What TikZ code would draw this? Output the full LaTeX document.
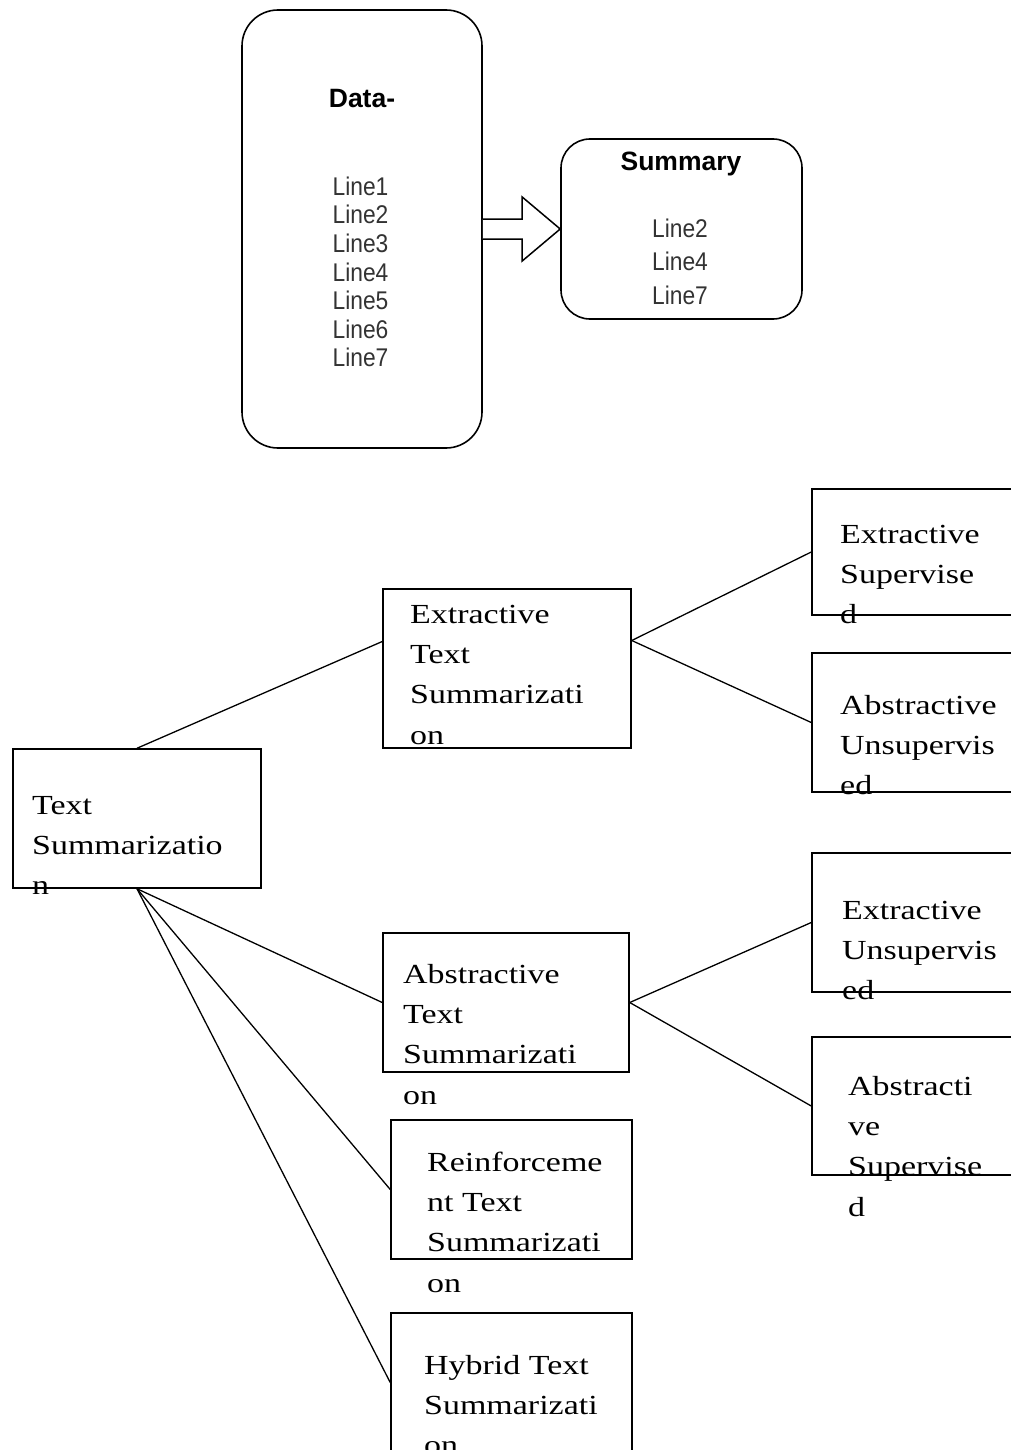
\documentclass[tikz,border=0pt]{standalone}
\usepackage{fontspec}
\newfontfamily\tnr[FakeStretch=1.23]{Liberation Serif}
\newfontfamily\arl[FakeStretch=0.89]{Liberation Sans}
\newfontfamily\arb{Liberation Sans}
\begin{document}
\begin{tikzpicture}[x=1pt,y=-1pt,
  rbox/.style={draw, line width=1.6pt, rounded corners=#1, inner sep=0},
  tbox/.style={draw, line width=1.5pt, inner sep=0},
  conn/.style={line width=1.3pt},
  blockarrow/.style={draw, line width=1.5pt, fill=white, line join=miter},
  btxt/.style={anchor=north west, inner sep=0, align=left, font=\tnr\fontsize{27.6}{40.3}\selectfont},
  ttl/.style={anchor=base, inner sep=0, font=\arb\bfseries\fontsize{26.5}{30}\selectfont},
  ltxt/.style={anchor=north, inner sep=0, align=center, text=black!80, font=\arl\fontsize{25.6}{#1}\selectfont}
]
\useasboundingbox (0,0) rectangle (1011,1450);
\clip (0,0) rectangle (1011,1450);
\fill[white] (0,0) rectangle (1011,1450);

% top part
\node[rbox=36, minimum width=240, minimum height=438] (data) at (362,229) {};
\node[rbox=29, minimum width=241, minimum height=180] (summary) at (681.5,229) {};
\node[ttl] (datatitle) at (362,108) {Data-};
\node[ltxt=28.6] (datalines) at (360.5,173) {\rule{0pt}{22pt}Line1\\Line2\\Line3\\Line4\\Line5\\Line6\\Line7};
\node[ttl] (sumtitle) at (681,171) {Summary};
\node[ltxt=33.5] (sumlines) at (680,215) {\rule{0pt}{22pt}Line2\\Line4\\Line7};
\draw[blockarrow] ([yshift=10pt]data.east) -- ([xshift=-38pt,yshift=10pt]summary.west)
  -- ([xshift=-38pt,yshift=32pt]summary.west) -- (summary.west)
  -- ([xshift=-38pt,yshift=-32pt]summary.west) -- ([xshift=-38pt,yshift=-10pt]summary.west)
  -- ([yshift=-10pt]data.east);

% tree boxes
\node[tbox, minimum width=248, minimum height=139] (ts) at (137,818.5) {};
\node[tbox, minimum width=248, minimum height=159] (ets) at (507,668.5) {};
\node[tbox, minimum width=246, minimum height=139] (ats) at (506,1002.5) {};
\node[tbox, minimum width=241, minimum height=139] (rts) at (511.5,1189.5) {};
\node[tbox, minimum width=241, minimum height=139] (hts) at (511.5,1382.5) {};
\node[tbox, minimum width=228, minimum height=126] (es) at (926,552) {};
\node[tbox, minimum width=228, minimum height=139] (au) at (926,722.5) {};
\node[tbox, minimum width=228, minimum height=139] (eu) at (926,922.5) {};
\node[tbox, minimum width=228, minimum height=138] (as) at (926,1106) {};

% connectors
\draw[conn] (ts.north) -- ([yshift=27pt]ets.west);
\draw[conn] ([yshift=28pt]ets.east) -- (es.west);
\draw[conn] ([yshift=28pt]ets.east) -- (au.west);
\draw[conn] (ats.east) -- (eu.west);
\draw[conn] (ats.east) -- (as.west);
\draw[conn] (ts.south) -- (ats.west);
\draw[conn] (ts.south) -- (rts.west);
\draw[conn] (ts.south) -- (hts.west);

% texts
\node[btxt] (tstext) at (32,784) {\rule{0pt}{30pt}Text\\Summarizatio\\n};
\node[btxt] (etstext) at (410,593) {\rule{0pt}{30pt}Extractive\\Text\\Summarizati\\on};
\node[btxt] (atstext) at (403,953) {\rule{0pt}{30pt}Abstractive\\Text\\Summarizati\\on};
\node[btxt] (rtstext) at (427,1141) {\rule{0pt}{30pt}Reinforceme\\nt Text\\Summarizati\\on};
\node[btxt] (htstext) at (424,1344) {\rule{0pt}{30pt}Hybrid Text\\Summarizati\\on};
\node[btxt] (estext) at (840,513) {\rule{0pt}{30pt}Extractive\\Supervise\\d};
\node[btxt] (autext) at (840,684) {\rule{0pt}{30pt}Abstractive\\Unsupervis\\ed};
\node[btxt] (eutext) at (842,889) {\rule{0pt}{30pt}Extractive\\Unsupervis\\ed};
\node[btxt] (astext) at (848,1065) {\rule{0pt}{30pt}Abstracti\\ve\\Supervise\\d};
\end{tikzpicture}
\end{document}
